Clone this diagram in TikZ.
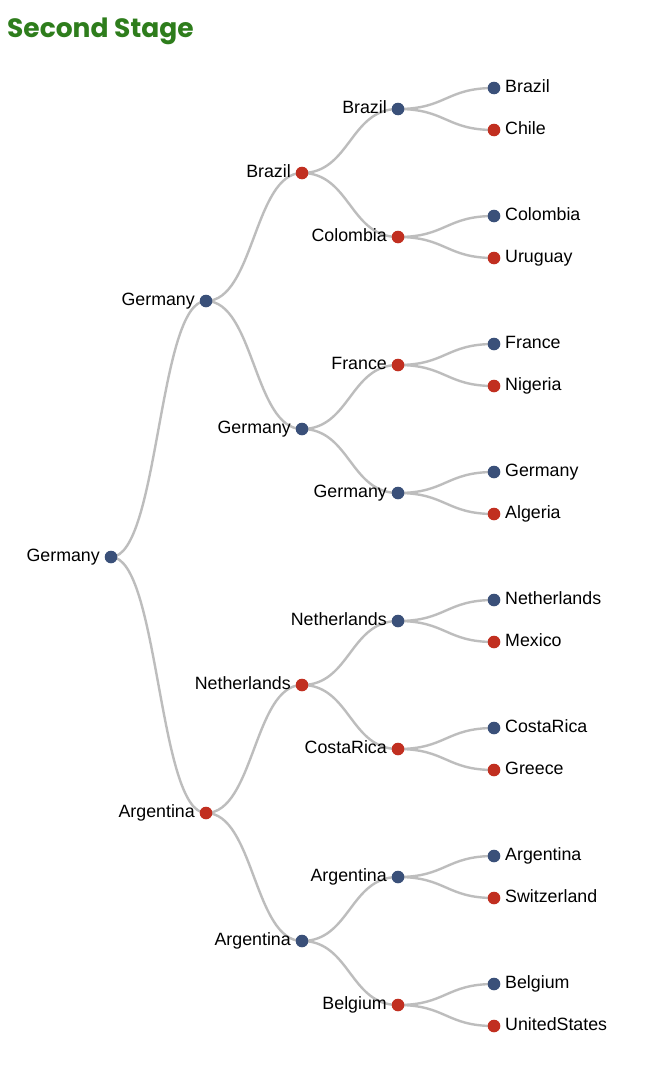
\documentclass[tikz,border=0pt]{standalone}
\usepackage{fontspec}
\setmainfont{Liberation Sans}
\newfontfamily\titlefont{Poppins}[UprightFont=* Bold]
\definecolor{dotblue}{RGB}{58,80,121}
\definecolor{dotred}{RGB}{193,47,32}
\definecolor{linkgray}{RGB}{189,189,189}
\definecolor{titlegreen}{RGB}{46,125,28}
\tikzset{
  dot/.style={circle,inner sep=0pt,minimum size=12.6pt,draw=none},
  won/.style={dot,fill=dotblue},
  lost/.style={dot,fill=dotred},
  lbl/.style={inner sep=0pt,font=\fontsize{17.8}{20}\selectfont,text=black},
  link/.style={draw=linkgray,line width=2.4pt}
}
% inner node: label on the left
\newcommand\tnode[5]{%
  \node[#4] (#1) at (#2,#3) {};
  \node[lbl,anchor=base east] (#1-t) at ([shift={(-11,4.5)}]#1.center) {#5};}
% leaf node: label on the right
\newcommand\lnode[5]{%
  \node[#4] (#1) at (#2,#3) {};
  \node[lbl,anchor=base west] (#1-t) at ([shift={(11,4.5)}]#1.center) {#5};}
% curved link between two nodes
\newcommand\lk[2]{\draw[link] (#1.center) .. controls +(48,0) and +(-48,0) .. (#2.center);}
\begin{document}
\begin{tikzpicture}[x=1pt,y=-1pt]
\useasboundingbox[fill=white] (0,0) rectangle (661,1076);
\node[anchor=base west,inner sep=0pt,text=titlegreen,font=\titlefont\fontsize{26.5}{30}\selectfont] (title) at (7,37) {Second Stage};

% tree positions; links are laid first so the dots sit on top
\path
  (111,557) coordinate (c0)
  (206,301) coordinate (c1a) (206,813) coordinate (c1b)
  (302,173) coordinate (c2a) (302,429) coordinate (c2b) (302,685) coordinate (c2c) (302,941) coordinate (c2d)
  (398,109) coordinate (c3a) (398,237) coordinate (c3b) (398,365) coordinate (c3c) (398,493) coordinate (c3d)
  (398,621) coordinate (c3e) (398,749) coordinate (c3f) (398,877) coordinate (c3g) (398,1005) coordinate (c3h);
\foreach \y [count=\i] in {88,130,216,258,344,386,472,514,600,642,728,770,856,898,984,1026}
  \path (494,\y) coordinate (c4-\i);

\lk{c0}{c1a} \lk{c0}{c1b}
\lk{c1a}{c2a} \lk{c1a}{c2b} \lk{c1b}{c2c} \lk{c1b}{c2d}
\lk{c2a}{c3a} \lk{c2a}{c3b} \lk{c2b}{c3c} \lk{c2b}{c3d}
\lk{c2c}{c3e} \lk{c2c}{c3f} \lk{c2d}{c3g} \lk{c2d}{c3h}
\lk{c3a}{c4-1} \lk{c3a}{c4-2} \lk{c3b}{c4-3} \lk{c3b}{c4-4}
\lk{c3c}{c4-5} \lk{c3c}{c4-6} \lk{c3d}{c4-7} \lk{c3d}{c4-8}
\lk{c3e}{c4-9} \lk{c3e}{c4-10} \lk{c3f}{c4-11} \lk{c3f}{c4-12}
\lk{c3g}{c4-13} \lk{c3g}{c4-14} \lk{c3h}{c4-15} \lk{c3h}{c4-16}

% final
\tnode{n0}{111}{557}{won}{Germany}
% semi-finals
\tnode{n1a}{206}{301}{won}{Germany}
\tnode{n1b}{206}{813}{lost}{Argentina}
% quarter-finals
\tnode{n2a}{302}{173}{lost}{Brazil}
\tnode{n2b}{302}{429}{won}{Germany}
\tnode{n2c}{302}{685}{lost}{Netherlands}
\tnode{n2d}{302}{941}{won}{Argentina}
% round of 16 winners
\tnode{n3a}{398}{109}{won}{Brazil}
\tnode{n3b}{398}{237}{lost}{Colombia}
\tnode{n3c}{398}{365}{lost}{France}
\tnode{n3d}{398}{493}{won}{Germany}
\tnode{n3e}{398}{621}{won}{Netherlands}
\tnode{n3f}{398}{749}{lost}{CostaRica}
\tnode{n3g}{398}{877}{won}{Argentina}
\tnode{n3h}{398}{1005}{lost}{Belgium}
% round of 16 teams
\lnode{n4a}{494}{88}{won}{Brazil}
\lnode{n4b}{494}{130}{lost}{Chile}
\lnode{n4c}{494}{216}{won}{Colombia}
\lnode{n4d}{494}{258}{lost}{Uruguay}
\lnode{n4e}{494}{344}{won}{France}
\lnode{n4f}{494}{386}{lost}{Nigeria}
\lnode{n4g}{494}{472}{won}{Germany}
\lnode{n4h}{494}{514}{lost}{Algeria}
\lnode{n4i}{494}{600}{won}{Netherlands}
\lnode{n4j}{494}{642}{lost}{Mexico}
\lnode{n4k}{494}{728}{won}{CostaRica}
\lnode{n4l}{494}{770}{lost}{Greece}
\lnode{n4m}{494}{856}{won}{Argentina}
\lnode{n4n}{494}{898}{lost}{Switzerland}
\lnode{n4o}{494}{984}{won}{Belgium}
\lnode{n4p}{494}{1026}{lost}{UnitedStates}
\end{tikzpicture}
\end{document}
